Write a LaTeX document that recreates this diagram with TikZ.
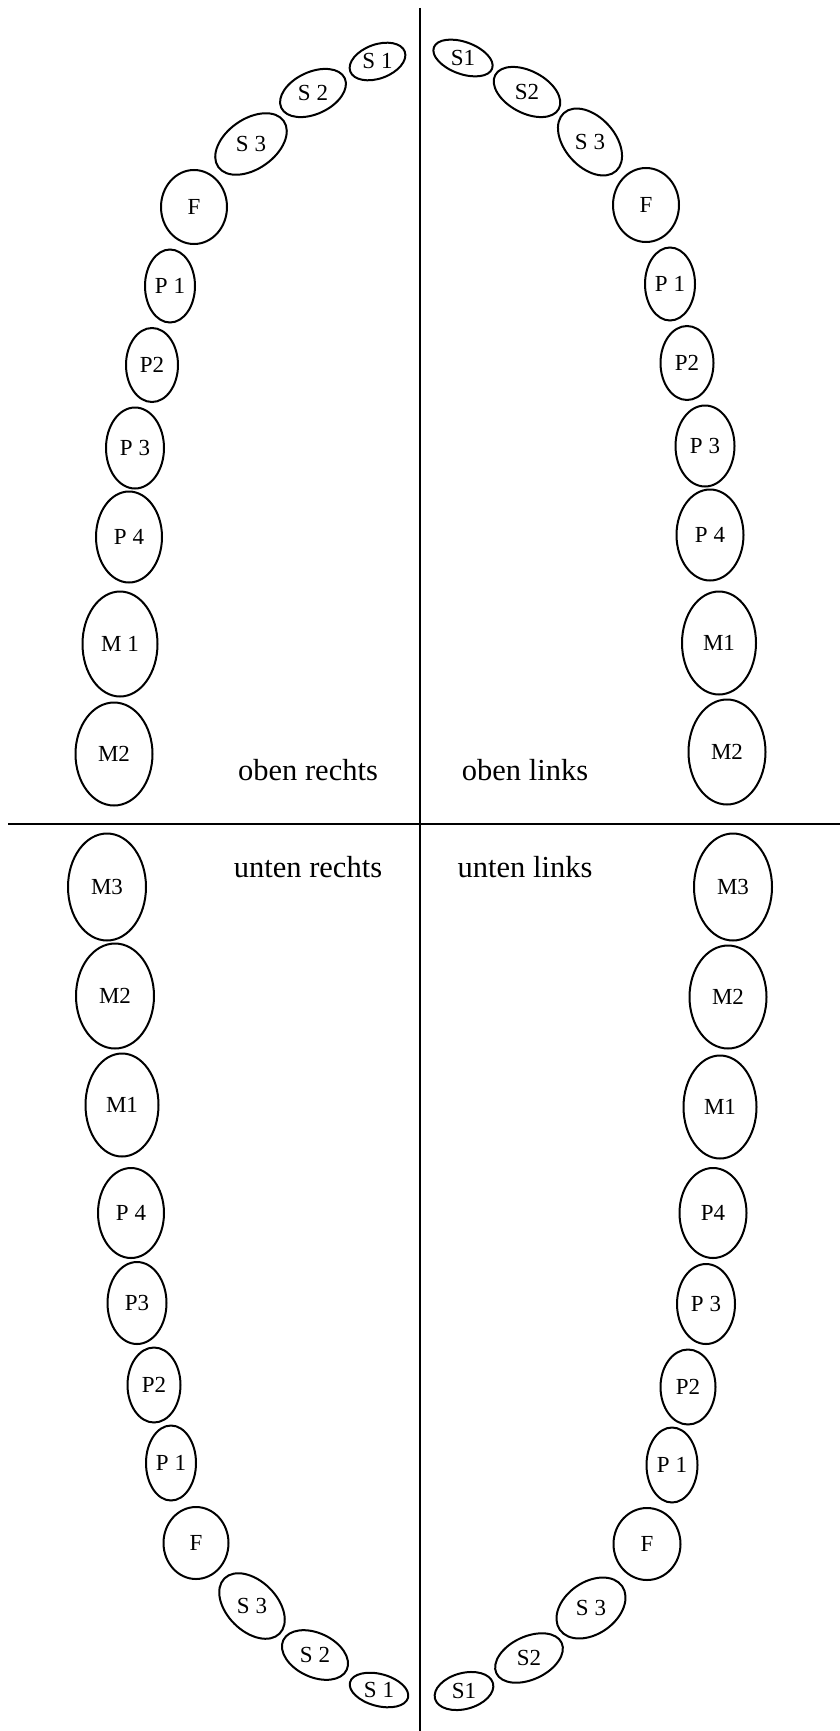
\documentclass[tikz,border=0pt]{standalone}
\usepackage{fontspec}
\setmainfont{Liberation Serif}
\tikzset{
  toothline/.style={draw=black, line width=2pt},
  toothlabel/.style={inner sep=0pt, font=\fontsize{23}{26}\selectfont},
  quadlabel/.style={inner sep=0pt, anchor=base, font=\fontsize{30.5}{36}\selectfont},
  divider/.style={draw=black, line width=1.4pt}
}
% name, x, y, x radius, y radius, angle, text
\newcommand\mytooth[7]{%
  \draw[toothline, rotate around={#6:(#2,#3)}] (#2,#3) ellipse [x radius=#4, y radius=#5];
  \node[toothlabel] (#1) at (#2,#3) {#7};}
\begin{document}
\begin{tikzpicture}[x=1pt, y=-1pt]
\useasboundingbox (0,0) rectangle (840,1731);
% dividers
\coordinate (vtop) at (420,8);
\coordinate (vbot) at (420,1731);
\coordinate (hl) at (8,824);
\coordinate (hr) at (840,824);
\draw[divider] (vtop) -- (vbot);
\draw[divider] (hl) -- (hr);
% quadrant labels
\node[quadlabel] (orl) at (308,780) {oben rechts};
\node[quadlabel] (oll) at (525,780) {oben links};
\node[quadlabel] (url) at (308,877) {unten rechts};
\node[quadlabel] (ull) at (525,877) {unten links};
% oben rechts
\mytooth{ors1}{377.5}{61.5}{29}{17}{20}{S 1}
\mytooth{ors2}{313}{93}{35}{21}{25}{S 2}
\mytooth{ors3}{251}{144}{40}{25}{35}{S 3}
\mytooth{orf}{194}{207}{33}{37}{0}{F}
\mytooth{orp1}{170}{286}{25}{36.5}{0}{P 1}
\mytooth{orp2}{152}{365}{26}{37}{0}{P2}
\mytooth{orp3}{135}{448}{29}{40.5}{0}{P 3}
\mytooth{orp4}{129}{537}{33}{45.5}{0}{P 4}
\mytooth{orm1}{120}{644}{37.5}{52.5}{0}{M 1}
\mytooth{orm2}{114}{754}{38.5}{51.5}{0}{M2}
% oben links
\mytooth{ols1}{463}{58}{31}{16}{-20}{S1}
\mytooth{ols2}{527}{92}{36}{21}{-28}{S2}
\mytooth{ols3}{590}{142}{39}{25}{-48}{S 3}
\mytooth{olf}{646}{205}{33}{37}{0}{F}
\mytooth{olp1}{670}{284}{25}{36.5}{0}{P 1}
\mytooth{olp2}{687}{363}{26.5}{37}{0}{P2}
\mytooth{olp3}{705}{446}{29.5}{40.5}{0}{P 3}
\mytooth{olp4}{710}{535}{33.5}{45.5}{0}{P 4}
\mytooth{olm1}{719}{643}{37}{51.5}{0}{M1}
\mytooth{olm2}{727}{752}{38.5}{52.5}{0}{M2}
% unten rechts
\mytooth{urm3}{107}{887}{39}{53.5}{0}{M3}
\mytooth{urm2}{115}{996}{39}{52.5}{0}{M2}
\mytooth{urm1}{122}{1105}{36.5}{51.5}{0}{M1}
\mytooth{urp4}{131}{1213}{33}{45}{0}{P 4}
\mytooth{urp3}{137}{1303}{29.5}{41}{0}{P3}
\mytooth{urp2}{154}{1385}{26.5}{37.5}{0}{P2}
\mytooth{urp1}{171}{1463}{25}{37.5}{0}{P 1}
\mytooth{urf}{196}{1543}{32.5}{36}{0}{F}
\mytooth{urs3}{252}{1606}{39}{25}{-45}{S 3}
\mytooth{urs2}{315}{1655}{35}{22}{-25}{S 2}
\mytooth{urs1}{379}{1690}{30}{16}{-15}{S 1}
% unten links
\mytooth{ulm3}{733}{887}{39}{53.5}{0}{M3}
\mytooth{ulm2}{728}{997}{38.5}{51.5}{0}{M2}
\mytooth{ulm1}{720}{1107}{36.5}{51.5}{0}{M1}
\mytooth{ulp4}{713}{1213}{33.5}{45}{0}{P4}
\mytooth{ulp3}{706}{1304}{29}{40}{0}{P 3}
\mytooth{ulp2}{688}{1387}{27.5}{37.5}{0}{P2}
\mytooth{ulp1}{672}{1465}{25.5}{37.5}{0}{P 1}
\mytooth{ulf}{647}{1544}{33.5}{36}{0}{F}
\mytooth{uls3}{591}{1608}{38}{26}{35}{S 3}
\mytooth{uls2}{529}{1658}{36}{21.5}{25}{S2}
\mytooth{uls1}{464}{1691}{30}{18}{15}{S1}
\end{tikzpicture}
\end{document}
